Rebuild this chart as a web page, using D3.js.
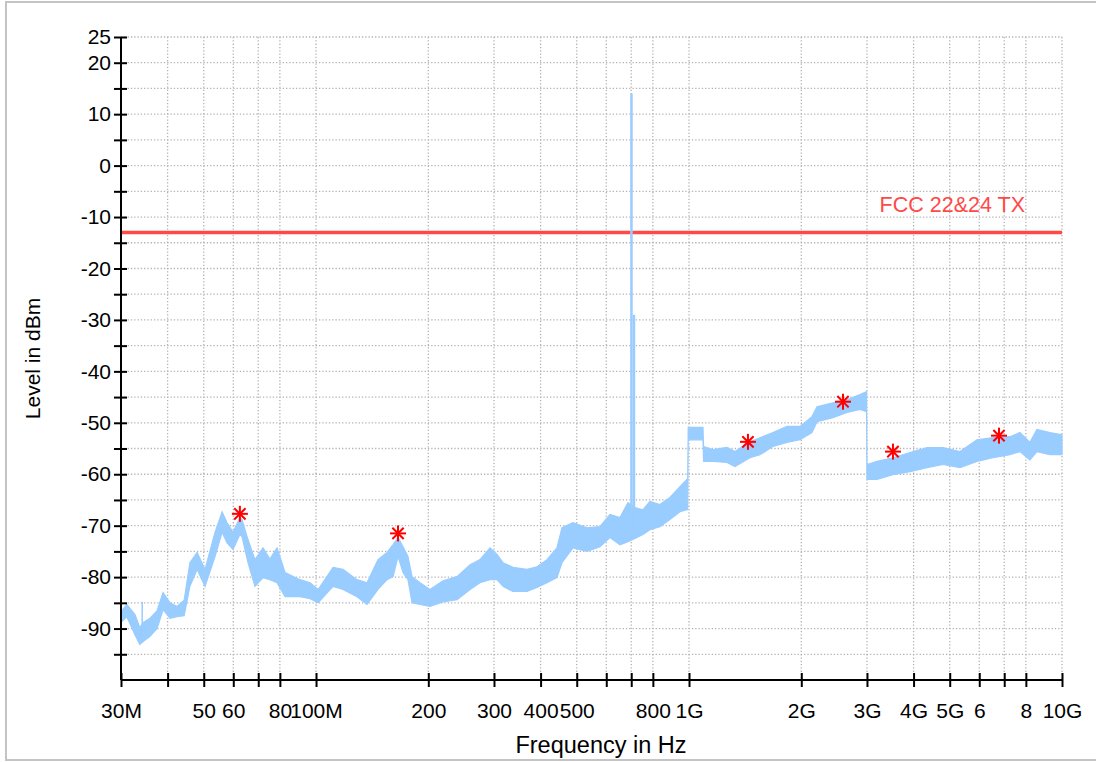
<!DOCTYPE html>
<html><head><meta charset="utf-8">
<script src="https://cdn.jsdelivr.net/npm/d3@7"></script>
<style>
body{margin:0;background:#fff}
svg{display:block}
text{font-family:"Liberation Sans",Arial,Helvetica,sans-serif}
</style>
</head><body>
<svg id="chart" width="1096" height="762"></svg>
<script>
// ---- data (frequency in MHz, level in dBm) ----
const freqMHz = [30.0,31.1,32.7,33.7,34.4,35.9,37.5,38.9,40.6,42.4,44.3,45.9,48.0,50.4,53.6,56.0,57.7,59.9,62.5,63.3,65.7,68.6,72.1,75.2,78.6,82.6,90.6,96.4,101.3,111.1,118.1,128.8,137.0,146.6,155.0,160.9,165.9,171.1,176.4,180.9,190.0,202.1,219.0,238.8,258.8,275.2,292.7,305.6,317.2,337.3,367.9,391.2,416.1,442.5,456.5,488.5,532.7,577.2,613.8,652.9,686.2,716.4,752.5,785.7,835.7,888.8,945.8,987.6,992,995,1006,1090,1094,1160,1264,1328,1457,1550,1679,1831,1984,2136,2204,2432,2652,2873,2981,2992,3000,3192,3522,3913,4345,4797,5327,5916,6531,7252,7712,8204,8568,9285,10000];
const upperLevel = [-86.7,-85.3,-87.3,-89.8,-88.8,-88.0,-86.5,-83.0,-85.0,-85.7,-84.5,-77.2,-75.2,-78.5,-71.3,-67.3,-69.4,-71.3,-68.4,-68.8,-72.7,-76.6,-74.3,-76.5,-74.3,-79.1,-80.5,-81.1,-82.4,-78.1,-78.5,-80.5,-81.1,-76.6,-75.2,-73.7,-72.3,-74.1,-76.0,-79.9,-81.1,-82.4,-80.7,-79.9,-77.6,-76.6,-74.3,-75.6,-77.2,-78.1,-78.5,-78.0,-76.6,-74.3,-70.4,-69.4,-70.4,-70.2,-67.8,-68.4,-65.5,-66.5,-66.9,-65.3,-65.9,-64.5,-62.4,-61.0,-61.0,-50.9,-50.9,-50.9,-54.6,-55.2,-54.8,-55.6,-53.7,-52.9,-51.9,-50.7,-50.7,-48.8,-46.9,-46.1,-45.5,-44.5,-44.0,-44.0,-58.1,-57.5,-56.8,-55.8,-54.8,-54.8,-55.6,-53.3,-52.9,-52.7,-51.9,-53.8,-51.3,-51.9,-52.3];
const lowerLevel = [-88.8,-87.7,-91.2,-93.1,-92.5,-91.5,-90.0,-86.3,-88.0,-87.7,-87.5,-81.8,-78.5,-81.8,-76.0,-71.3,-73.3,-74.6,-71.7,-72.1,-77.2,-81.8,-80.1,-80.5,-81.1,-83.8,-83.8,-84.2,-85.0,-81.8,-82.4,-83.8,-85.3,-82.4,-80.5,-79.9,-76.0,-79.1,-80.5,-85.0,-85.3,-85.7,-84.8,-84.4,-82.4,-81.1,-80.5,-80.5,-81.8,-82.8,-82.8,-82.0,-81.1,-80.1,-77.2,-74.3,-75.0,-74.1,-72.3,-73.7,-73.1,-72.5,-71.7,-70.8,-70.2,-68.8,-67.3,-66.9,-66.9,-53.3,-53.3,-53.3,-57.5,-57.5,-57.7,-58.5,-56.8,-56.2,-54.6,-53.8,-53.3,-51.9,-49.8,-49.0,-48.0,-47.4,-47.8,-47.8,-61.0,-61.0,-60.1,-59.5,-58.7,-58.1,-58.7,-57.5,-56.8,-56.2,-55.6,-57.2,-55.6,-56.2,-56.2];

const spikeFreq = [34.2, 701, 712];
const spikeTop = [-84.8, 14, -29];
const spikeBottom = [-92.7, -72, -70];

const markerFreq = [62.5, 165.9, 1439, 2587, 3522, 6777];
const markerLevel = [-67.7, -71.5, -53.7, -45.9, -55.6, -52.5];

const limitLevel = -13;
const limitLabel = "FCC 22&24 TX";

const xTickValues = [30,40,50,60,70,80,100,200,300,400,500,600,700,800,1000,2000,3000,4000,5000,6000,7000,8000,10000];
const xTickText   = ["30M","","50","60","","80","100M","200","300","400","500","","","800","1G","2G","3G","4G","5G","6","","8","10G"];
const yTickValues = [-95,-90,-85,-80,-75,-70,-65,-60,-55,-50,-45,-40,-35,-30,-25,-20,-15,-10,-5,0,5,10,15,20,25];
const yTickText   = ["","-90","","-80","","-70","","-60","","-50","","-40","","-30","","-20","","-10","","0","","10","","20","25"];

const xTitle = "Frequency in Hz";
const yTitle = "Level in dBm";

// ---- layout ----
const svg = d3.select("#chart");
const L = 121, R = 1062, T = 37, B = 680;
const x = d3.scaleLog().domain([30, 10000]).range([L, R]);
const y = d3.scaleLinear().domain([-100, 25]).range([B, T]);

// outer frame
svg.append("rect").attr("x", 6).attr("y", 2).attr("width", 1200).attr("height", 758)
  .attr("fill", "none").attr("stroke", "#c4c4c4").attr("stroke-width", 2);

// grid
const grid = svg.append("g").attr("stroke", "#b3b3b3").attr("stroke-width", 1.3).attr("stroke-dasharray", "1.3,2");
grid.selectAll("line.h").data(yTickValues).join("line")
  .attr("x1", L).attr("x2", R).attr("y1", d => y(d)).attr("y2", d => y(d));
grid.selectAll("line.v").data(xTickValues.slice(1)).join("line")
  .attr("x1", d => x(d)).attr("x2", d => x(d)).attr("y1", T).attr("y2", B);

// limit line
svg.append("line").attr("x1", L).attr("x2", R).attr("y1", y(limitLevel)).attr("y2", y(limitLevel))
  .attr("stroke", "#ff4848").attr("stroke-width", 3.5);
svg.append("text").attr("x", 1025).attr("y", 212).attr("text-anchor", "end")
  .attr("font-size", 21.5).attr("fill", "#ff4848").text(limitLabel);

// trace band
const pts = freqMHz.map((f, i) => ({f, hi: upperLevel[i], lo: lowerLevel[i]}));
svg.append("path").datum(pts)
  .attr("d", d3.area().x(d => x(d.f)).y0(d => y(d.lo)).y1(d => y(d.hi)))
  .attr("fill", "#99ccff").attr("stroke", "#99ccff").attr("stroke-width", 1.2);
svg.selectAll("line.spike").data(spikeFreq).join("line")
  .attr("x1", d => x(d)).attr("x2", d => x(d))
  .attr("y1", (d, i) => y(spikeTop[i])).attr("y2", (d, i) => y(spikeBottom[i]))
  .attr("stroke", "#99ccff").attr("stroke-width", (d, i) => i === 0 ? 1.5 : 2.5);

// markers (asterisks)
const mk = svg.append("g").attr("stroke", "#ff0000").attr("stroke-width", 2);
markerFreq.forEach((f, i) => {
  const cx = x(f), cy = y(markerLevel[i]), r = 8;
  [0, 45, 90, 135].forEach(a => {
    const dx = r * Math.cos(a * Math.PI / 180), dy = r * Math.sin(a * Math.PI / 180);
    mk.append("line").attr("x1", cx - dx).attr("x2", cx + dx).attr("y1", cy - dy).attr("y2", cy + dy);
  });
});

// axes
const yAxis = d3.axisLeft(y).tickValues(yTickValues).tickSize(7).tickSizeOuter(0).tickPadding(3)
  .tickFormat((d, i) => yTickText[i]);
const gy = svg.append("g").attr("transform", `translate(${L},0)`).call(yAxis);
gy.select(".domain").attr("stroke", "#000").attr("stroke-width", 2).attr("d", `M0,${T}V${B}`);
gy.selectAll(".tick line").attr("x1", 6).attr("stroke-width", 2);
gy.selectAll(".tick text").attr("font-size", 21).attr("font-family", "Liberation Sans, Arial, sans-serif").attr("fill", "#000");

const xAxis = d3.axisBottom(x).tickValues(xTickValues).tickSize(7).tickSizeOuter(0).tickPadding(16)
  .tickFormat((d, i) => xTickText[i]);
const gx = svg.append("g").attr("transform", `translate(0,${B})`).call(xAxis);
gx.select(".domain").attr("stroke", "#000").attr("stroke-width", 2).attr("d", `M${L},0H${R}`);
gx.selectAll(".tick line").attr("y1", -7).attr("stroke-width", 2);
gx.selectAll(".tick text").attr("font-size", 21).attr("font-family", "Liberation Sans, Arial, sans-serif").attr("fill", "#000");

// titles
svg.append("text").attr("x", 601).attr("y", 753).attr("text-anchor", "middle")
  .attr("font-size", 23.5).attr("fill", "#000").text(xTitle);
svg.append("text").attr("transform", `translate(40,${(T + B) / 2}) rotate(-90)`).attr("text-anchor", "middle")
  .attr("font-size", 21).attr("fill", "#000").text(yTitle);
</script>
</body></html>
